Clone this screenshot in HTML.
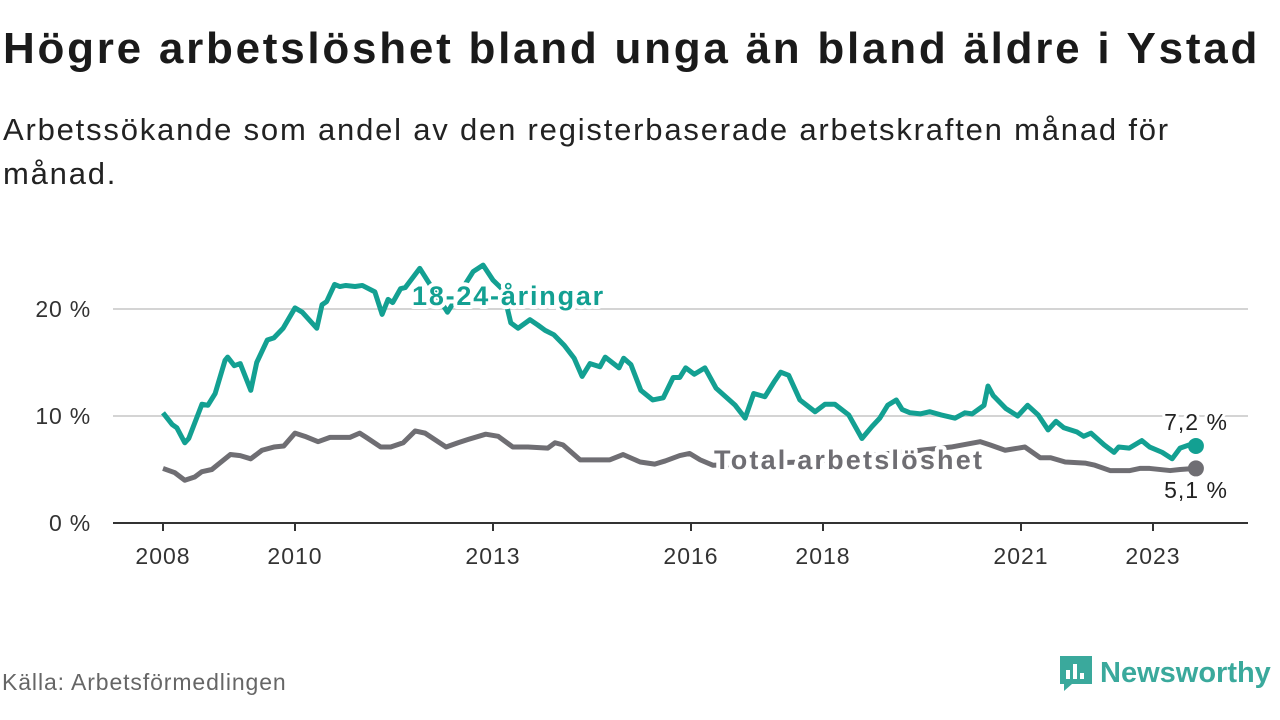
<!DOCTYPE html>
<html><head><meta charset="utf-8"><style>
body{margin:0;width:1280px;height:720px;background:#fff;font-family:"Liberation Sans",sans-serif;overflow:hidden;position:relative}
#title{position:absolute;left:3px;top:24px;font-size:44px;font-weight:bold;color:#1a1a1a;margin:0;letter-spacing:2.75px;white-space:nowrap}
#sub{position:absolute;left:3px;top:108px;font-size:31px;color:#222;line-height:44px;width:1230px;letter-spacing:1.8px}
#src{position:absolute;left:2px;top:669px;font-size:23px;color:#666;letter-spacing:0.9px}
#logo{position:absolute;left:1058px;top:654px;display:flex;align-items:center;font-size:29px;font-weight:bold;color:#3aa99c}
</style></head><body>
<h1 id="title">Högre arbetslöshet bland unga än bland äldre i Ystad</h1>
<div id="sub">Arbetssökande som andel av den registerbaserade arbetskraften månad för<br>månad.</div>
<svg id="chart" width="1280" height="720" style="position:absolute;left:0;top:0"></svg>
<div id="src">Källa: Arbetsförmedlingen</div>
<div id="logo"><svg width="36" height="38" viewBox="0 0 36 38"><path d="M2 2h32v28H14l-8 7v-7H2z" fill="#3aa99c"/><rect x="8" y="16" width="4" height="9" fill="#fff"/><rect x="15" y="10" width="4" height="15" fill="#fff"/><rect x="22" y="19" width="4" height="6" fill="#fff"/></svg><span style="margin-left:6px">Newsworthy</span></div>
<script>
const youthDates=[2008.0,2008.14,2008.21,2008.33,2008.39,2008.59,2008.68,2008.79,2008.94,2008.98,2009.08,2009.17,2009.33,2009.42,2009.58,2009.68,2009.82,2010.0,2010.11,2010.33,2010.41,2010.48,2010.6,2010.68,2010.77,2010.91,2011.02,2011.21,2011.32,2011.41,2011.48,2011.6,2011.67,2011.89,2012.31,2012.7,2012.85,2013.0,2013.15,2013.27,2013.38,2013.56,2013.68,2013.79,2013.92,2014.08,2014.23,2014.35,2014.47,2014.62,2014.7,2014.91,2014.98,2015.09,2015.24,2015.42,2015.58,2015.73,2015.83,2015.92,2016.05,2016.21,2016.38,2016.67,2016.82,2016.95,2017.12,2017.26,2017.36,2017.48,2017.65,2017.88,2018.03,2018.18,2018.39,2018.59,2018.74,2018.86,2018.98,2019.11,2019.2,2019.32,2019.48,2019.62,2019.79,2020.0,2020.15,2020.26,2020.44,2020.5,2020.58,2020.77,2020.95,2021.1,2021.26,2021.41,2021.53,2021.65,2021.85,2021.95,2022.06,2022.26,2022.41,2022.48,2022.64,2022.83,2022.95,2023.14,2023.29,2023.41,2023.55,2023.65];
const youthValues=[10.3,9.2,8.9,7.5,7.9,11.1,11.0,12.1,15.2,15.5,14.7,14.9,12.4,15.0,17.1,17.3,18.2,20.1,19.7,18.2,20.4,20.7,22.3,22.1,22.2,22.1,22.2,21.6,19.5,20.9,20.6,21.9,22.0,23.8,19.7,23.5,24.1,22.7,21.8,18.7,18.2,19.0,18.5,18.0,17.6,16.6,15.4,13.7,14.9,14.6,15.5,14.5,15.4,14.8,12.4,11.5,11.7,13.6,13.6,14.5,13.9,14.5,12.6,11.0,9.8,12.1,11.8,13.2,14.1,13.8,11.5,10.4,11.1,11.1,10.1,7.9,9.0,9.8,11.0,11.5,10.6,10.3,10.2,10.4,10.1,9.8,10.3,10.2,11.0,12.8,11.9,10.7,10.0,11.0,10.1,8.7,9.5,8.9,8.5,8.1,8.4,7.3,6.6,7.1,7.0,7.7,7.1,6.6,6.0,7.0,7.3,7.2];
const totalDates=[2008.0,2008.18,2008.33,2008.48,2008.59,2008.74,2008.86,2009.02,2009.17,2009.33,2009.5,2009.68,2009.83,2010.0,2010.15,2010.35,2010.53,2010.83,2010.98,2011.08,2011.3,2011.45,2011.64,2011.82,2011.97,2012.29,2012.47,2012.62,2012.89,2013.08,2013.3,2013.53,2013.83,2013.94,2014.06,2014.32,2014.55,2014.77,2014.97,2015.23,2015.45,2015.61,2015.83,2015.98,2016.14,2016.33,2017.65,2019.17,2019.94,2020.38,2020.53,2020.76,2021.06,2021.29,2021.45,2021.67,2021.97,2022.12,2022.35,2022.65,2022.8,2022.95,2023.26,2023.41,2023.65];
const totalValues=[5.1,4.7,4.0,4.3,4.8,5.0,5.6,6.4,6.3,6.0,6.8,7.1,7.2,8.4,8.1,7.6,8.0,8.0,8.4,8.0,7.1,7.1,7.5,8.6,8.4,7.1,7.5,7.8,8.3,8.1,7.1,7.1,7.0,7.5,7.3,5.9,5.9,5.9,6.4,5.7,5.5,5.8,6.3,6.5,5.9,5.4,5.7,6.6,7.1,7.6,7.3,6.8,7.1,6.1,6.1,5.7,5.6,5.4,4.9,4.9,5.1,5.1,4.9,5.0,5.1];
const xTicks=[2008,2010,2013,2016,2018,2021,2023];
const yTicks=[0,10,20];
const NS="http://www.w3.org/2000/svg";
const svg=document.getElementById('chart');
const xs=y=>163+(y-2008)*66;
const ys=v=>523-v*10.7;
function el(t,a,p){const e=document.createElementNS(NS,t);for(const k in a)e.setAttribute(k,a[k]);(p||svg).appendChild(e);return e;}
yTicks.forEach(v=>{
  if(v>0){const g=el('line',{x1:113,x2:1248,y1:ys(v),y2:ys(v),stroke:'#d4d4d4','stroke-width':2});
  
  }
  const t=el('text',{x:91,y:ys(v)+8,'text-anchor':'end','font-size':23,fill:'#333','letter-spacing':'0.8'});
  t.textContent=v+' %';
  
  
});
const ax=el('line',{x1:113,x2:1248,y1:523,y2:523,stroke:'#333','stroke-width':2});


xTicks.forEach(y=>{
  const tk=el('line',{x1:xs(y),x2:xs(y),y1:523,y2:531,stroke:'#333','stroke-width':2});
  
  
  const t=el('text',{x:xs(y),y:564,'text-anchor':'middle','font-size':23,fill:'#333','letter-spacing':'1'});
  t.textContent=y;
  
  
});
function line(d,v,c,name){
  const p=el('polyline',{points:d.map((x,i)=>xs(x)+','+ys(v[i])).join(' '),fill:'none',stroke:c,'stroke-width':5,'stroke-linejoin':'round'});
  
  
  const c2=el('circle',{cx:xs(d[d.length-1]),cy:ys(v[v.length-1]),r:8,fill:c});
  
  
}
line(totalDates,totalValues,'#6f6e73','total-line');
line(youthDates,youthValues,'#13a092','youth-line');
function lab(x,y,txt,c,name,bold,anchor,ls){
  const t=el('text',{x:x,y:y,'font-size':bold?27:23,'font-weight':bold?'bold':'normal',fill:c,stroke:'#fff','stroke-width':bold?8:6,'paint-order':'stroke','stroke-linejoin':'round','text-anchor':anchor||'start','letter-spacing':ls||0});
  t.textContent=txt;
  
  
}
lab(412,305,'18-24-åringar','#13a092','youth-series-label',true,'start',1.8);
lab(714,469,'Total arbetslöshet','#6f6e73','total-series-label',true,'start',2.2);
lab(1196,430,'7,2 %','#222','youth-end-value',false,'middle',1);
lab(1196,498,'5,1 %','#222','total-end-value',false,'middle',1);
</script>
</body></html>
